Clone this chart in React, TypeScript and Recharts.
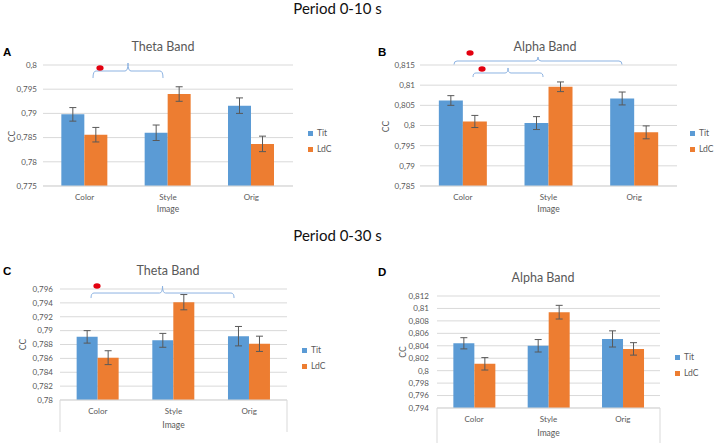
import React from 'react';
import {
  BarChart,
  Bar,
  XAxis,
  YAxis,
  CartesianGrid,
  Legend,
  ErrorBar,
  ReferenceLine,
} from 'recharts';

// ---------- data ----------
const categories = ['Color', 'Style', 'Orig'];

// A: Period 0-10 s, Theta Band
const titA = [0.7898, 0.786, 0.7916];
const ldcA = [0.7856, 0.794, 0.7837];
const errTitA = [0.0014, 0.0016, 0.0016];
const errLdcA = [0.0015, 0.0015, 0.0016];
const ticksA = [0.775, 0.78, 0.785, 0.79, 0.795, 0.8];

// B: Period 0-10 s, Alpha Band
const titB = [0.8062, 0.8006, 0.8067];
const ldcB = [0.801, 0.8096, 0.7983];
const errTitB = [0.0012, 0.0016, 0.0016];
const errLdcB = [0.0015, 0.0012, 0.0016];
const ticksB = [0.785, 0.79, 0.795, 0.8, 0.805, 0.81, 0.815];

// C: Period 0-30 s, Theta Band
const titC = [0.7891, 0.7886, 0.7892];
const ldcC = [0.7861, 0.7941, 0.7881];
const errTitC = [0.0009, 0.001, 0.0014];
const errLdcC = [0.001, 0.0011, 0.0011];
const ticksC = [0.78, 0.782, 0.784, 0.786, 0.788, 0.79, 0.792, 0.794, 0.796];

// D: Period 0-30 s, Alpha Band
const titD = [0.8044, 0.804, 0.8051];
const ldcD = [0.8011, 0.8094, 0.8035];
const errTitD = [0.0009, 0.001, 0.0013];
const errLdcD = [0.001, 0.0011, 0.001];
const ticksD = [0.794, 0.796, 0.798, 0.8, 0.802, 0.804, 0.806, 0.808, 0.81, 0.812];

// significance braces: x in category units (0..3 across the plot), y in CC units,
// each with the position of its red significance dot
type Brace = { x1: number; x2: number; y: number; yEnd: number; yTop: number; dx: number; dy: number };
const bracesA: Brace[] = [{ x1: 0.6, x2: 1.44, y: 0.79876, yEnd: 0.79731, yTop: 0.80041, dx: 0.684, dy: 0.79938 }];
const bracesB: Brace[] = [
  { x1: 0.397, x2: 2.358, y: 0.81599, yEnd: 0.81512, yTop: 0.81698, dx: 0.584, dy: 0.81798 },
  { x1: 0.619, x2: 1.436, y: 0.81302, yEnd: 0.81202, yTop: 0.81426, dx: 0.724, dy: 0.81401 },
];
const bracesC: Brace[] = [{ x1: 0.41, x2: 2.3, y: 0.79542, yEnd: 0.7947, yTop: 0.79643, dx: 0.489, dy: 0.79643 }];

const BLUE = '#5B9BD5';
const ORANGE = '#ED7D31';
const GRID = '#D9D9D9';
const TXT = '#595959';
const BRACE = '#8DB3E2';
const RED = '#E3000F';

const buildRows = (tit: number[], ldc: number[], eT: number[], eL: number[]) =>
  categories.map((c, i) => ({ image: c, Tit: tit[i], LdC: ldc[i], errTit: eT[i], errLdC: eL[i] }));

const fmt = (v: number) => String(Number(v.toFixed(3))).replace('.', ',');

// Reference segment always goes from first category centre (u=0.5, value a)
// to last category centre (u=2.5, value b); pixel positions are interpolated from it.
const mapper = (p: any, a: number, b: number) => {
  const unit = (p.x2 - p.x1) / 2;
  const ux = (u: number) => p.x1 + (u - 0.5) * unit;
  const vy = (v: number) => p.y1 + ((v - a) * (p.y2 - p.y1)) / (b - a);
  return { ux, vy };
};

const braceShape = (b: Brace) => (p: any) => {
  const { ux, vy } = mapper(p, b.yEnd, b.yTop);
  const xl = ux(b.x1);
  const xr = ux(b.x2);
  const xm = (xl + xr) / 2;
  const yh = vy(b.y);
  const ye = vy(b.yEnd);
  const yt = vy(b.yTop);
  const r = 3;
  const d = `M ${xl} ${ye} Q ${xl} ${yh} ${xl + r} ${yh} L ${xm - r} ${yh} Q ${xm} ${yh} ${xm} ${yt} Q ${xm} ${yh} ${xm + r} ${yh} L ${xr - r} ${yh} Q ${xr} ${yh} ${xr} ${ye}`;
  return (
    <g>
      <path d={d} fill="none" stroke={BRACE} strokeWidth={1} />
      <ellipse cx={ux(b.dx)} cy={vy(b.dy)} rx={3.6} ry={2.7} fill={RED} />
    </g>
  );
};

const boxShape = (a: number, b: number) => (p: any) => {
  const { ux, vy } = mapper(p, a, b);
  const y1 = vy(a);
  const y2 = vy(b);
  return (
    <g>
      <line x1={ux(0)} y1={y1} x2={ux(0)} y2={y2} stroke={GRID} strokeWidth={1} />
      <line x1={ux(3)} y1={y1} x2={ux(3)} y2={y2} stroke={GRID} strokeWidth={1} />
    </g>
  );
};

type Cfg = {
  left: number;
  top: number;
  width: number;
  height: number;
  margin: { top: number; right: number; bottom: number; left: number };
  yWidth: number;
  xHeight: number;
  domain: [number, number];
  ticks: number[];
  rows: any[];
  yGap: number;
  braces: Brace[];
  boxTo: number | null;
  legend: [number, number];
  ccX: number;
  ccShift: number;
  imgY: number;
};

function Panel({ cfg }: { cfg: Cfg }) {
  const first = categories[0];
  const last = categories[categories.length - 1];
  const refs: React.ReactNode[] = [];
  cfg.braces.forEach((b, i) => {
    refs.push(
      <ReferenceLine key={`b${i}`} ifOverflow="visible"
        segment={[{ x: first, y: b.yEnd }, { x: last, y: b.yTop }]}
        shape={braceShape(b)} />
    );
  });
  if (cfg.boxTo !== null) {
    refs.push(
      <ReferenceLine key="box" ifOverflow="visible"
        segment={[{ x: first, y: cfg.domain[0] }, { x: last, y: cfg.boxTo }]}
        shape={boxShape(cfg.domain[0], cfg.boxTo)} />
    );
  }
  return (
    <div style={{ position: 'absolute', left: cfg.left, top: cfg.top }}>
      <BarChart width={cfg.width} height={cfg.height} data={cfg.rows} margin={cfg.margin}
        barCategoryGap="22%" barGap={0}>
        <CartesianGrid vertical={false} stroke={GRID} />
        <XAxis dataKey="image" height={cfg.xHeight} tickLine={false} axisLine={{ stroke: GRID }}
          tickSize={0} tickMargin={8} tick={{ fontSize: 8, fill: TXT }}
          label={(p: any) => {
            const vb = p.viewBox;
            return (
              <text x={vb.x + vb.width / 2} y={vb.y + cfg.imgY} textAnchor="middle" fontSize={8.5} fill={TXT}>
                Image
              </text>
            );
          }} />
        <YAxis width={cfg.yWidth} domain={cfg.domain} ticks={cfg.ticks} interval={0} allowDataOverflow
          axisLine={false} tickLine={false} tickSize={0} tickMargin={cfg.yGap} tickFormatter={fmt}
          tick={{ fontSize: 8, fill: TXT }}
          label={(p: any) => {
            const vb = p.viewBox;
            const cx = vb.x + cfg.ccX;
            const cy = vb.y + vb.height / 2 + cfg.ccShift;
            return (
              <text x={cx} y={cy} transform={`rotate(-90 ${cx} ${cy})`} textAnchor="middle"
                dominantBaseline="central" fontSize={8.5} fill={TXT}>
                CC
              </text>
            );
          }} />
        <Legend layout="vertical" align="center" verticalAlign="middle" iconType="square" iconSize={5}
          itemSorter={(item: any) => (item.dataKey === 'Tit' ? 0 : 1)}
          wrapperStyle={{ left: cfg.legend[0], top: cfg.legend[1], width: 40, fontSize: 8.5, lineHeight: '16px', whiteSpace: 'nowrap' }}
          formatter={(v: any) => <span style={{ color: TXT }}>{v}</span>} />
        <Bar dataKey="Tit" fill={BLUE} isAnimationActive={false}>
          <ErrorBar dataKey="errTit" width={3.5} stroke={TXT} strokeWidth={1} />
        </Bar>
        <Bar dataKey="LdC" fill={ORANGE} isAnimationActive={false}>
          <ErrorBar dataKey="errLdC" width={3.5} stroke={TXT} strokeWidth={1} />
        </Bar>
        {refs}
      </BarChart>
    </div>
  );
}

const panels: Cfg[] = [
  {
    left: 0, top: 30, width: 357, height: 190,
    margin: { top: 35, right: 64, bottom: 0, left: 0 },
    yWidth: 43, xHeight: 34, domain: [0.775, 0.8], ticks: ticksA,
    rows: buildRows(titA, ldcA, errTitA, errLdcA), yGap: 6,
    braces: bracesA, boxTo: null, legend: [308, 95],
    ccX: 12, ccShift: 11, imgY: 25.5,
  },
  {
    left: 357, top: 30, width: 357, height: 190,
    margin: { top: 35, right: 37, bottom: 0, left: 0 },
    yWidth: 63, xHeight: 34, domain: [0.785, 0.815], ticks: ticksB,
    rows: buildRows(titB, ldcB, errTitB, errLdcB), yGap: 5,
    braces: bracesB, boxTo: null, legend: [333, 95],
    ccX: 29, ccShift: 1, imgY: 25.5,
  },
  {
    left: 0, top: 225, width: 357, height: 218,
    margin: { top: 64, right: 70, bottom: 0, left: 0 },
    yWidth: 60, xHeight: 43, domain: [0.78, 0.796], ticks: ticksC,
    rows: buildRows(titC, ldcC, errTitC, errLdcC), yGap: 7,
    braces: bracesC, boxTo: 0.77539, legend: [302, 117],
    ccX: 23, ccShift: 0, imgY: 28,
  },
  {
    left: 357, top: 225, width: 357, height: 218,
    margin: { top: 71, right: 54, bottom: 0, left: 0 },
    yWidth: 80, xHeight: 35, domain: [0.794, 0.812], ticks: ticksD,
    rows: buildRows(titD, ldcD, errTitD, errLdcD), yGap: 8,
    braces: [], boxTo: 0.78838, legend: [318, 124],
    ccX: 46, ccShift: 0, imgY: 28,
  },
];

const headings = [
  { text: 'Period 0-10 s', x: 337.5, y: 14 },
  { text: 'Period 0-30 s', x: 337.5, y: 241 },
];
const titles = [
  { text: 'Theta Band', x: 163, y: 50.5 },
  { text: 'Alpha Band', x: 545, y: 51 },
  { text: 'Theta Band', x: 168, y: 275 },
  { text: 'Alpha Band', x: 543, y: 281.5 },
];
const letters = [
  { text: 'A', x: 3, y: 56 },
  { text: 'B', x: 378, y: 56 },
  { text: 'C', x: 3, y: 275 },
  { text: 'D', x: 378, y: 276 },
];

export default function App() {
  return (
    <div style={{ position: 'absolute', left: 0, top: 0, width: 714, height: 443, background: '#fff', fontFamily: 'Lato, "Open Sans", sans-serif', overflow: 'hidden' }}>
      {panels.map((p, i) => (
        <Panel key={i} cfg={p} />
      ))}
      <svg width={714} height={443} style={{ position: 'absolute', left: 0, top: 0, pointerEvents: 'none' }}>
        {headings.map((h, i) => (
          <text key={`h${i}`} x={h.x} y={h.y} textAnchor="middle" fontSize={15} fill="#111" fontFamily="Lato">
            {h.text}
          </text>
        ))}
        {titles.map((t, i) => (
          <text key={`t${i}`} x={t.x} y={t.y} textAnchor="middle" fontSize={12.5} fill={TXT} fontFamily="Lato">
            {t.text}
          </text>
        ))}
        {letters.map((l, i) => (
          <text key={`l${i}`} x={l.x} y={l.y} fontSize={11.5} fontWeight="bold" fill="#000" fontFamily="'Liberation Sans', Arial, sans-serif">
            {l.text}
          </text>
        ))}
      </svg>
    </div>
  );
}
